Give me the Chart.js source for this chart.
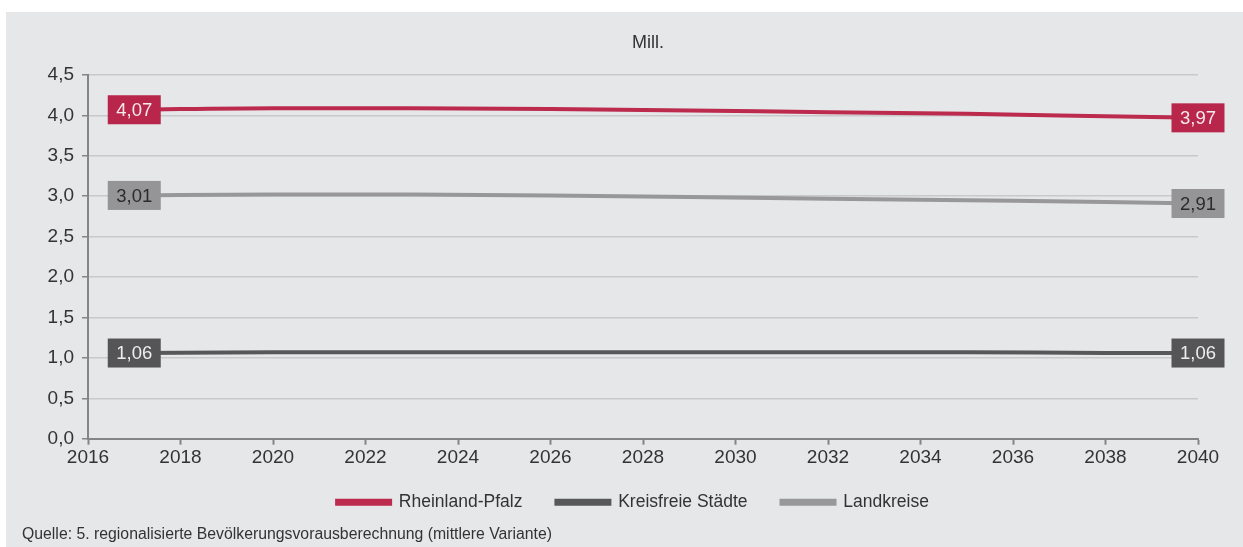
<!DOCTYPE html>
<html lang="de">
<head>
  <meta charset="UTF-8">
  <title>Bevölkerungsvorausberechnung Rheinland-Pfalz</title>
  <script src="https://cdn.jsdelivr.net/npm/chart.js"></script>
  <style>
    html, body {
      margin: 0;
      padding: 0;
      background: #fff;
      font-family: "Liberation Sans", Arial, sans-serif;
    }
    #panel {
      position: absolute;
      left: 6px;
      top: 12px;
      width: 1237px;
      height: 535px;
      background: #e6e7e9;
    }
    #chart {
      position: absolute;
      left: 0;
      top: 0;
    }
    #source {
      position: absolute;
      left: 16px;
      top: 513px;
      font-size: 15.8px;
      line-height: 18px;
      color: #333;
    }
  </style>
</head>
<body>
  <div id="panel">
    <canvas id="chart" width="1237" height="535"></canvas>
    <div id="source">Quelle: 5. regionalisierte Bevölkerungsvorausberechnung (mittlere Variante)</div>
  </div>

  <script>
    // Jahre und Werte (Mill.)
    const years = [2017, 2020, 2023, 2026, 2029, 2032, 2035, 2038, 2040];
    const rlp = [4.07, 4.09, 4.09, 4.08, 4.06, 4.04, 4.02, 3.99, 3.97];
    const kreisfreie = [1.06, 1.07, 1.07, 1.07, 1.07, 1.07, 1.07, 1.06, 1.06];
    const landkreise = [3.01, 3.02, 3.02, 3.01, 2.99, 2.97, 2.95, 2.93, 2.91];
    const seriesNames = ["Rheinland-Pfalz", "Kreisfreie Städte", "Landkreise"];
    const unit = "Mill.";

    const FONT = "'Liberation Sans', Arial, sans-serif";
    const fmt = v => v.toFixed(2).replace(".", ",");
    const pts = arr => arr.map((v, i) => ({ x: years[i], y: v }));

    // Einheit über der Mitte der Zeichenfläche
    const unitTitle = {
      id: "unitTitle",
      afterDraw(chart) {
        const ctx = chart.ctx, a = chart.chartArea;
        ctx.save();
        ctx.font = "18px " + FONT;
        ctx.fillStyle = "#333";
        ctx.textAlign = "center";
        ctx.textBaseline = "middle";
        ctx.fillText(unit, (a.left + a.right) / 2 + 5, 31);
        ctx.restore();
      }
    };

    // Legende etwas nach rechts/oben schieben (wie in der Vorlage)
    const legendShift = {
      id: "legendShift",
      afterLayout(chart) {
        const lg = chart.legend;
        lg.left += 31; lg.right += 31;
        lg.top -= 12; lg.bottom -= 12;
      }
    };

    // Wertkästchen am Anfang und Ende jeder Linie
    const endLabels = {
      id: "endLabels",
      afterDatasetsDraw(chart) {
        const ctx = chart.ctx;
        ctx.save();
        ctx.font = "18.5px " + FONT;
        ctx.textAlign = "center";
        ctx.textBaseline = "middle";
        chart.data.datasets.forEach((ds, i) => {
          const meta = chart.getDatasetMeta(i);
          [0, ds.data.length - 1].forEach(j => {
            const el = meta.data[j];
            const w = 53, h = 29;
            ctx.fillStyle = ds.boxColor;
            ctx.fillRect(el.x - w / 2, el.y - h / 2, w, h);
            ctx.fillStyle = ds.boxText;
            ctx.fillText(fmt(ds.data[j].y), el.x, el.y + 1);
          });
        });
        ctx.restore();
      }
    };

    new Chart(document.getElementById("chart"), {
      type: "line",
      data: {
        datasets: [
          {
            label: seriesNames[0],
            data: pts(rlp),
            borderColor: "#bc2a4e",
            backgroundColor: "#bc2a4e",
            boxColor: "#b9264b",
            boxText: "#f6e9ec",
            borderWidth: 4
          },
          {
            label: seriesNames[1],
            data: pts(kreisfreie),
            borderColor: "#58585a",
            backgroundColor: "#58585a",
            boxColor: "#555557",
            boxText: "#eeeeee",
            borderWidth: 4
          },
          {
            label: seriesNames[2],
            data: pts(landkreise),
            borderColor: "#98989a",
            backgroundColor: "#98989a",
            boxColor: "#959597",
            boxText: "#2b2b2b",
            borderWidth: 4
          }
        ]
      },
      options: {
        responsive: false,
        animation: false,
        cubicInterpolationMode: "monotone",
        pointRadius: 0,
        layout: { padding: { left: 0, right: 45, top: 63, bottom: 14 } },
        plugins: {
          title: { display: false },
          legend: {
            position: "bottom",
            labels: {
              boxWidth: 53,
              boxHeight: 3,
              color: "#333",
              padding: 34,
              font: { family: FONT, size: 17.5 }
            }
          },
          tooltip: { enabled: false }
        },
        scales: {
          x: {
            type: "linear",
            min: 2016,
            max: 2040,
            ticks: {
              stepSize: 2,
              color: "#333",
              font: { family: FONT, size: 19 },
              callback: v => String(v),
              padding: 2
            },
            grid: { drawOnChartArea: false, drawTicks: true, tickLength: 6, tickColor: "#858585", tickWidth: 2 },
            border: { color: "#858585", width: 2 }
          },
          y: {
            min: 0,
            max: 4.5,
            afterFit: s => { s.width = 82; },
            ticks: {
              stepSize: 0.5,
              color: "#333",
              font: { family: FONT, size: 19 },
              callback: v => v.toFixed(1).replace(".", ","),
              padding: 8
            },
            grid: { color: "#c9c9cb", lineWidth: 1.5, tickLength: 6, tickColor: "#858585" },
            border: { color: "#858585", width: 2 }
          }
        }
      },
      plugins: [endLabels, unitTitle, legendShift]
    });
  </script>
</body>
</html>
